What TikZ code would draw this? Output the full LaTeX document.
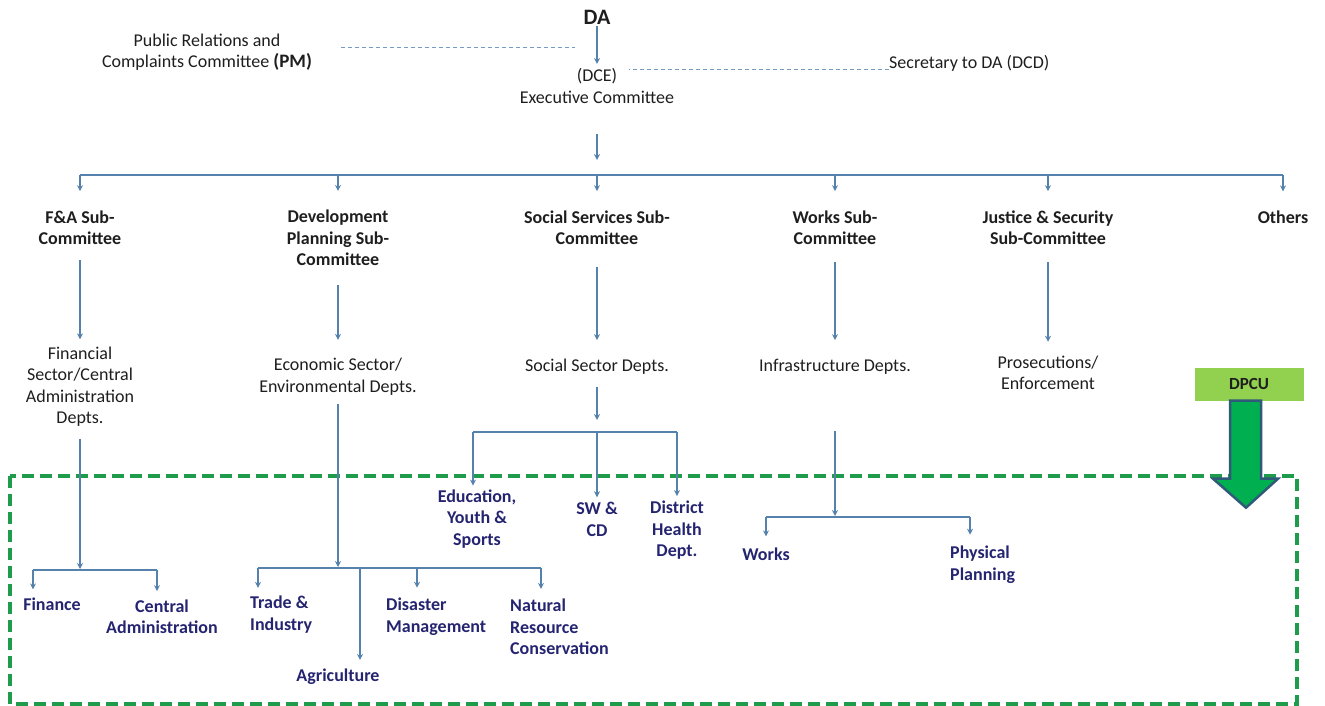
\documentclass[tikz,border=0pt]{standalone}
\usepackage{fontspec}
\setmainfont{Carlito}
\usetikzlibrary{arrows.meta}
\definecolor{linkblue}{RGB}{84,130,172}
\definecolor{tieblue}{RGB}{115,155,195}
\definecolor{unitblue}{RGB}{36,36,112}
\definecolor{txtgray}{RGB}{30,30,30}
\definecolor{zonegreen}{RGB}{30,155,75}
\definecolor{dpcufill}{RGB}{146,208,80}
\definecolor{arrowfill}{RGB}{0,176,80}
\definecolor{arrowedge}{RGB}{47,90,120}
\begin{document}
\begin{tikzpicture}[x=1pt,y=-1pt]
        \tikzset{
            plain/.style={font=\fontsize{18}{21.5}\selectfont, text=txtgray, align=center, inner sep=0pt},
            head/.style={plain, font=\bfseries\fontsize{18}{21.5}\selectfont},
            unit/.style={head, text=unitblue},
            link/.style={draw=linkblue, line width=1.2pt, -{Stealth[length=6pt,width=6pt]}},
            bar/.style={draw=linkblue, line width=1.2pt},
            tie/.style={draw=tieblue, line width=0.8pt, dash pattern=on 4pt off 3pt},
            zone/.style={draw=zonegreen, line width=3.5pt, dash pattern=on 12pt off 6pt},
            dpcubox/.style={fill=dpcufill, minimum width=109pt, minimum height=33pt, inner sep=0pt,
              font=\bfseries\fontsize{17}{20}\selectfont, text=txtgray},
            bigarrow/.style={fill=arrowfill, draw=arrowedge, line width=2.5pt, line join=miter}
          }
        \useasboundingbox (0,0) rectangle (1325,706);

        \draw[zone] (10,476) rectangle (1297,704);

        \node[head, font=\bfseries\fontsize{22}{26}\selectfont] (da) at (597,17) {DA};
        \node[plain] (pm) at (207,52) {Public Relations and\\Complaints Committee {\bfseries\fontsize{19}{21.5}\selectfont (PM)}};
        \node[plain] (dce) at (597,76) {(DCE)};
        \node[plain] (exec) at (597,97) {Executive Committee};
        \node[plain, anchor=base west] (dcd) at (889,69) {Secretary to DA (DCD)};
        \coordinate (pmtie) at (575,47);
        \draw[tie] (pm.east |- pmtie) ++(29,0) -- (pmtie);
        \draw[tie, shorten >=12pt] (dcd.base west) -- (dcd.base west -| dce.east);
        \draw[link, shorten <=2pt, shorten >=4pt] (da) -- (dce);

        \node[head] (fasc) at (80,227.5) {F\&A Sub-\\Committee};
        \node[head] (devsc) at (338,238) {Development\\Planning Sub-\\Committee};
        \node[head] (socsc) at (597,227.5) {Social Services Sub-\\Committee};
        \node[head] (wrksc) at (835,227.5) {Works Sub-\\Committee};
        \node[head] (jussc) at (1048,227.5) {Justice \& Security\\Sub-Committee};
        \node[head] (oth) at (1283,217) {Others};

        \coordinate (bus) at (597,175);
        \draw[link, shorten <=31pt, shorten >=15pt] (exec) -- (bus);
        \draw[bar] (fasc.north |- bus) -- (oth.north |- bus);
        \foreach \n in {fasc,devsc,socsc,wrksc,jussc,oth}
          \draw[link, shorten >=19pt] (\n.north |- bus) -- (\n.north);

        \node[plain] (finD) at (80,386.5) {Financial\\Sector/Central\\Administration\\Depts.};
        \node[plain] (econD) at (338,376.5) {Economic Sector/\\Environmental Depts.};
        \node[plain] (socD) at (597,367) {Social Sector Depts.};
        \node[plain] (infD) at (835,367) {Infrastructure Depts.};
        \node[plain] (prosD) at (1048,373) {Prosecutions/\\Enforcement};

        \draw[link, shorten <=15pt, shorten >=7pt] (fasc) -- (finD);
        \draw[link, shorten <=19pt, shorten >=18pt] (devsc) -- (econD);
        \draw[link, shorten <=22pt, shorten >=19pt] (socsc) -- (socD);
        \draw[link, shorten <=17pt, shorten >=19pt] (wrksc) -- (infD);
        \draw[link, shorten <=17pt, shorten >=14pt] (jussc) -- (prosD);

        % finance and central administration
        \node[unit] (finance) at (52,604) {Finance};
        \node[unit] (centadm) at (162,616.5) {Central\\Administration};
        \coordinate (finbar) at (80,570);
        \coordinate (finL) at (33,570);
        \coordinate (finR) at (157,570);
        \draw[link, shorten <=12pt, shorten >=1pt] (finD) -- (finbar);
        \draw[bar] (finL) -- (finR);
        \draw[link, shorten >=8pt] (finL) -- (finL |- finance.north);
        \draw[link, shorten >=8pt] (finR) -- (finR |- centadm.north);

        % economic and environmental units
        \node[unit, align=left, anchor=west] (trade) at (250,614.5) {Trade \&\\Industry};
        \node[unit, align=left, anchor=west] (disaster) at (386,616.5) {Disaster\\Management};
        \node[unit, align=left, anchor=west] (natres) at (510,627) {Natural\\Resource\\Conservation};
        \node[unit] (agri) at (338,677) {Agriculture};
        \coordinate (ecobar) at (338,568);
        \coordinate (trL) at (258,568);
        \coordinate (disM) at (417,568);
        \coordinate (natR) at (541,568);
        \coordinate (agM) at (360,568);
        \draw[link, shorten <=9pt, shorten >=1pt] (econD) -- (ecobar);
        \draw[bar] (trL) -- (natR);
        \draw[link, shorten >=8pt] (trL) -- (trL |- trade.north);
        \draw[link, shorten >=10pt] (disM) -- (disM |- disaster.north);
        \draw[link, shorten >=10pt] (natR) -- (natR |- natres.north);
        \draw[link, shorten >=9pt] (agM) -- (agM |- agri.north);

        % social units
        \node[unit] (edu) at (477,519) {Education,\\Youth \&\\Sports};
        \node[unit] (swcd) at (597,519.5) {SW \&\\CD};
        \node[unit] (health) at (677,530.5) {District\\Health\\Dept.};
        \coordinate (socbar) at (597,432);
        \coordinate (eduL) at (473,432);
        \coordinate (hlR) at (677,432);
        \draw[link, shorten <=12pt, shorten >=12pt] (socD) -- (socbar);
        \draw[bar] (eduL) -- (hlR);
        \draw[link, shorten >=4pt] (eduL) -- (eduL |- edu.north);
        \draw[link, shorten >=5pt] (socbar) -- (swcd);
        \draw[link, shorten >=5pt] (hlR) -- (health);

        % infrastructure units
        \node[unit] (works) at (766,554) {Works};
        \node[unit, align=left, anchor=west] (physplan) at (950,564.5) {Physical\\Planning};
        \coordinate (infbar) at (835,517);
        \coordinate (wkL) at (766,517);
        \coordinate (ppR) at (970,517);
        \draw[link, shorten <=56pt, shorten >=1pt] (infD) -- (infbar);
        \draw[bar] (wkL) -- (ppR);
        \draw[link, shorten >=11pt] (wkL) -- (works);
        \draw[link, shorten >=11pt] (ppR) -- (ppR |- physplan.north);

        \node[dpcubox] (dpcu) at (1249,384) {DPCU};
        \draw[bigarrow] (dpcu.south) ++(-19,0) -- ++(0,78) -- ++(-17,0) -- ++(33,29)
          -- ++(32,-29) -- ++(-17,0) -- ++(0,-78) -- cycle;
    \end{tikzpicture}
\end{document}
